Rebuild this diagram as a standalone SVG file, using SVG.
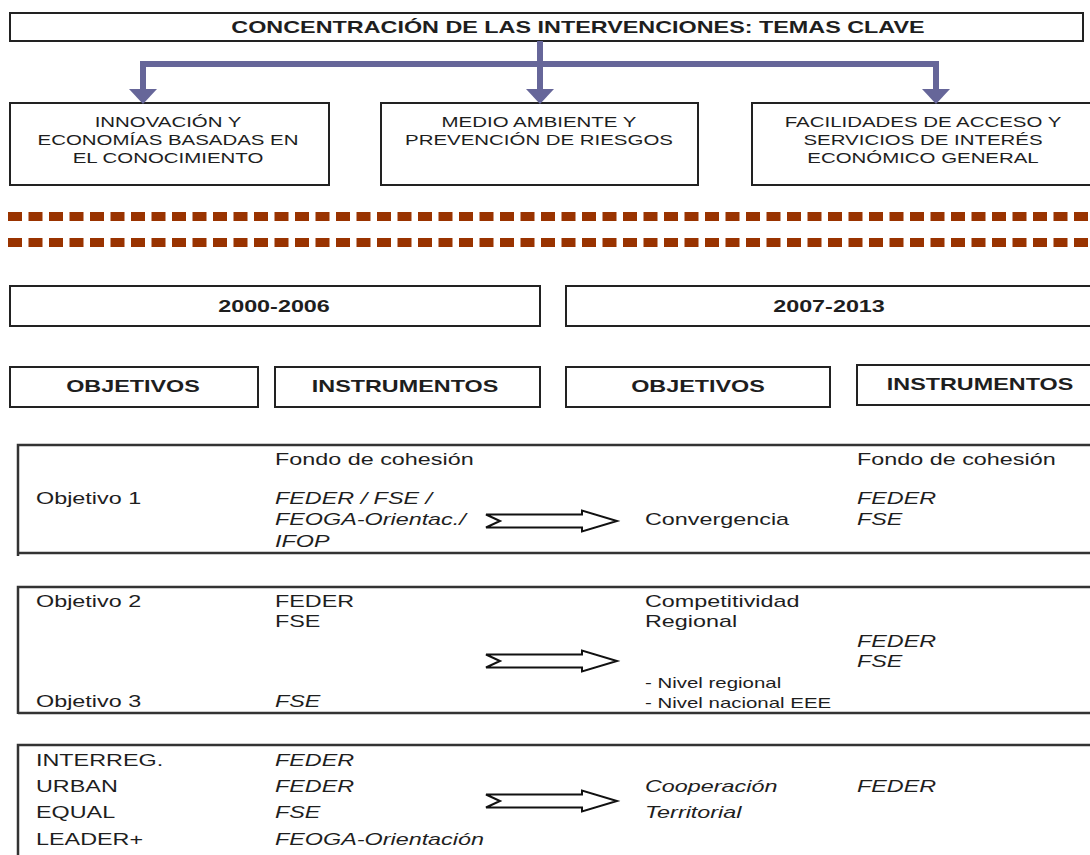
<svg xmlns="http://www.w3.org/2000/svg" width="1090" height="855" viewBox="0 0 1090 855">
<style>
  text { font-family: "Liberation Sans", Arial, sans-serif; fill: #1e1e1e; }
  .h { font-size: 16px; font-weight: bold; text-anchor: middle; }
  .b { font-size: 14px; text-anchor: middle; }
  .t { font-size: 16px; }
  .i { font-size: 16px; font-style: italic; }
  .s { font-size: 14px; }
  .box { fill: #fff; stroke: #222; stroke-width: 2; }
  .sec { fill: none; stroke: #333; stroke-width: 2.5; }
  .dot { fill: none; stroke: #993300; stroke-width: 9; stroke-dasharray: 14 6.5; }
  .pl { fill: none; stroke: #666699; stroke-width: 6; }
  .ph { fill: #666699; }
  .blk { fill: #fff; stroke: #111; stroke-width: 2; stroke-linejoin: miter; }
</style>
<defs>
  <path id="blockArrow" d="M0,-6.5 L96,-6.5 L96,-10.5 L131,0 L96,10.5 L96,6.5 L0,6.5 L14,0 Z"/>
</defs>
<rect width="1090" height="855" fill="#fff"/>

<g id="title">
  <rect class="box" x="10" y="13" width="1073" height="28"/>
  <text class="h" transform="translate(578,33) scale(1.46,1)">CONCENTRACIÓN DE LAS INTERVENCIONES: TEMAS CLAVE</text>
</g>

<g id="tema1">
  <rect class="box" x="10" y="103" width="319" height="82"/>
  <text class="b" transform="translate(168,127) scale(1.46,1)">INNOVACIÓN Y</text>
  <text class="b" transform="translate(168,145) scale(1.46,1)">ECONOMÍAS BASADAS EN</text>
  <text class="b" transform="translate(168,163) scale(1.46,1)">EL CONOCIMIENTO</text>
</g>
<g id="tema2">
  <rect class="box" x="381" y="103" width="317" height="82"/>
  <text class="b" transform="translate(539,127) scale(1.46,1)">MEDIO AMBIENTE Y</text>
  <text class="b" transform="translate(539,145) scale(1.46,1)">PREVENCIÓN DE RIESGOS</text>
</g>
<g id="tema3">
  <rect class="box" x="752" y="103" width="345" height="82"/>
  <text class="b" transform="translate(923,127) scale(1.46,1)">FACILIDADES DE ACCESO Y</text>
  <text class="b" transform="translate(923,145) scale(1.46,1)">SERVICIOS DE INTERÉS</text>
  <text class="b" transform="translate(923,163) scale(1.46,1)">ECONÓMICO GENERAL</text>
</g>

<g id="separator">
  <line class="dot" x1="8" y1="216.5" x2="1090" y2="216.5"/>
  <line class="dot" x1="8" y1="242.5" x2="1090" y2="242.5"/>
</g>

<g id="periodo2000">
  <rect class="box" x="10" y="286" width="530" height="40"/>
  <text class="h" transform="translate(274,312) scale(1.46,1)">2000-2006</text>
</g>
<g id="periodo2007">
  <rect class="box" x="566" y="286" width="530" height="40"/>
  <text class="h" transform="translate(829,312) scale(1.46,1)">2007-2013</text>
</g>

<g id="obj2000">
  <rect class="box" x="10" y="367" width="248" height="40"/>
  <text class="h" transform="translate(133,392) scale(1.46,1)">OBJETIVOS</text>
</g>
<g id="inst2000">
  <rect class="box" x="275" y="367" width="265" height="40"/>
  <text class="h" transform="translate(405,392) scale(1.46,1)">INSTRUMENTOS</text>
</g>
<g id="obj2007">
  <rect class="box" x="566" y="367" width="264" height="40"/>
  <text class="h" transform="translate(698,392) scale(1.46,1)">OBJETIVOS</text>
</g>
<g id="inst2007">
  <rect class="box" x="857" y="365" width="240" height="40"/>
  <text class="h" transform="translate(980,390) scale(1.46,1)">INSTRUMENTOS</text>
</g>

<g id="seccion1">
  <path class="sec" d="M1092,445 H18 V556 M18,553 H1092"/>
  <text class="t" transform="translate(275,465) scale(1.46,1)">Fondo de cohesión</text>
  <text class="t" transform="translate(36,504) scale(1.46,1)">Objetivo 1</text>
  <text class="i" transform="translate(275,504) scale(1.46,1)">FEDER / FSE /</text>
  <text class="i" transform="translate(275,525) scale(1.46,1)">FEOGA-Orientac./</text>
  <text class="i" transform="translate(275,547) scale(1.46,1)">IFOP</text>
  <text class="t" transform="translate(645,525) scale(1.46,1)">Convergencia</text>
  <text class="t" transform="translate(857,465) scale(1.46,1)">Fondo de cohesión</text>
  <text class="i" transform="translate(857,504) scale(1.46,1)">FEDER</text>
  <text class="i" transform="translate(857,525) scale(1.46,1)">FSE</text>
</g>

<g id="seccion2">
  <path class="sec" d="M1092,587 H18 V714 M18,713 H1092"/>
  <text class="t" transform="translate(36,607) scale(1.46,1)">Objetivo 2</text>
  <text class="t" transform="translate(275,607) scale(1.46,1)">FEDER</text>
  <text class="t" transform="translate(275,627) scale(1.46,1)">FSE</text>
  <text class="t" transform="translate(36,707) scale(1.46,1)">Objetivo 3</text>
  <text class="i" transform="translate(275,707) scale(1.46,1)">FSE</text>
  <text class="t" transform="translate(645,607) scale(1.46,1)">Competitividad</text>
  <text class="t" transform="translate(645,627) scale(1.46,1)">Regional</text>
  <text class="i" transform="translate(857,647) scale(1.46,1)">FEDER</text>
  <text class="i" transform="translate(857,667) scale(1.46,1)">FSE</text>
  <text class="s" transform="translate(645,688) scale(1.46,1)">- Nivel regional</text>
  <text class="s" transform="translate(645,708) scale(1.46,1)">- Nivel nacional EEE</text>
</g>

<g id="seccion3">
  <path class="sec" d="M1092,745 H18 V857"/>
  <text class="t" transform="translate(36,766) scale(1.46,1)">INTERREG.</text>
  <text class="t" transform="translate(36,792) scale(1.46,1)">URBAN</text>
  <text class="t" transform="translate(36,818) scale(1.46,1)">EQUAL</text>
  <text class="t" transform="translate(36,845) scale(1.46,1)">LEADER+</text>
  <text class="i" transform="translate(275,766) scale(1.46,1)">FEDER</text>
  <text class="i" transform="translate(275,792) scale(1.46,1)">FEDER</text>
  <text class="i" transform="translate(275,818) scale(1.46,1)">FSE</text>
  <text class="i" transform="translate(275,845) scale(1.46,1)">FEOGA-Orientación</text>
  <text class="i" transform="translate(645,792) scale(1.46,1)">Cooperación</text>
  <text class="i" transform="translate(645,818) scale(1.46,1)">Territorial</text>
  <text class="i" transform="translate(857,792) scale(1.46,1)">FEDER</text>
</g>

<g id="connectors">
  <path class="pl" d="M143,90 V64 H936 V90 M540,41 V90"/>
  <polygon class="ph" points="129,89 157,89 143,104"/>
  <polygon class="ph" points="526,89 554,89 540,104"/>
  <polygon class="ph" points="922,89 950,89 936,104"/>
  <use href="#blockArrow" class="blk" transform="translate(486,521)"/>
  <use href="#blockArrow" class="blk" transform="translate(486,661)"/>
  <use href="#blockArrow" class="blk" transform="translate(486,801)"/>
</g>
</svg>
